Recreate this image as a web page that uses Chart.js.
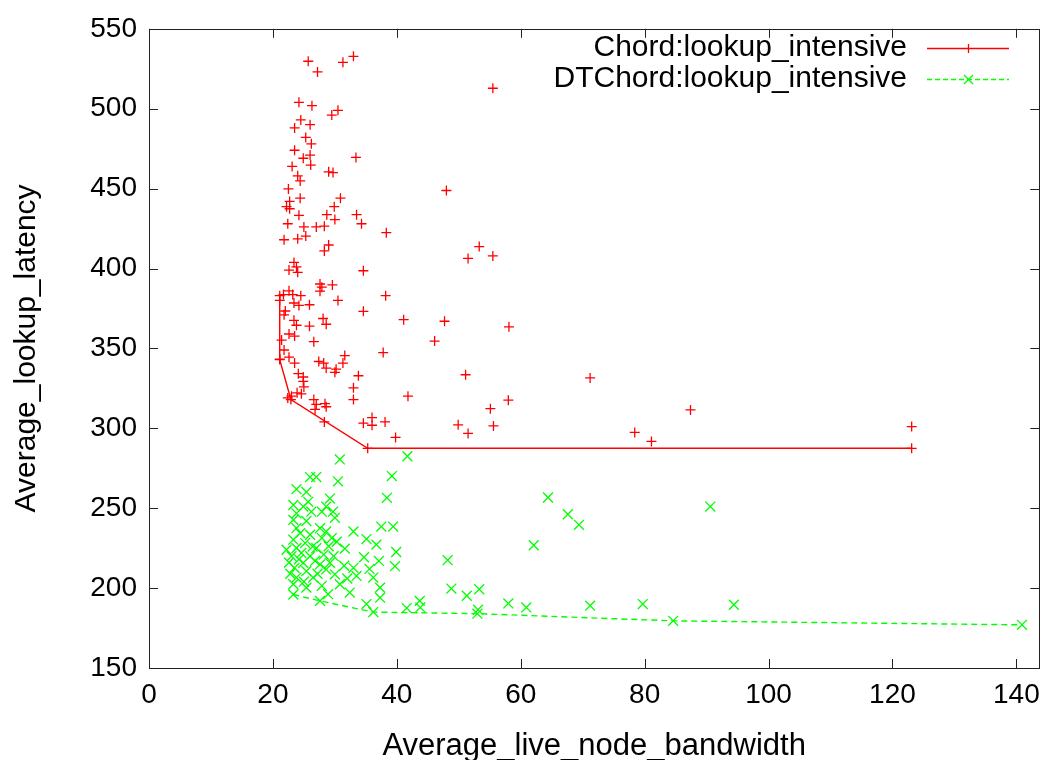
<!DOCTYPE html>
<html>
<head>
<meta charset="utf-8">
<title>lookup latency vs bandwidth</title>
<script src="https://cdn.jsdelivr.net/npm/chart.js@4.4.0/dist/chart.umd.min.js"></script>
<style>
  html, body { margin: 0; padding: 0; background: #fff; }
  canvas { display: block; }
</style>
</head>
<body>
<canvas id="plot" width="1050" height="760"></canvas>
<script>
// Chord runs (all samples)
var chordX = [25.7, 31.3, 33.0, 27.2, 24.2, 26.3, 30.5, 29.5, 24.5, 26.0, 23.5, 25.3, 26.2, 23.5, 26.0, 24.9, 33.4, 26.1, 23.1, 29.0,
  29.7, 24.0, 24.4, 22.5, 24.4, 30.9, 22.7, 22.2, 29.9, 22.7, 24.2, 28.7, 33.5, 30.0, 34.3, 22.4, 25.0, 27.0, 28.3, 38.3,
  21.8, 24.0, 25.3, 29.0, 28.3, 23.4, 23.8, 22.6, 24.0, 34.6, 27.6, 27.9, 27.6, 29.6, 38.2, 22.6, 21.7, 23.2, 24.5, 30.5,
  21.1, 23.4, 25.9, 24.2, 22.0, 34.6, 21.8, 23.4, 28.1, 41.1, 23.8, 25.9, 28.6, 46.1, 22.6, 23.5, 26.6, 21.4, 21.8, 37.8,
  31.6, 21.1, 22.6, 23.5, 27.4, 28.2, 31.3, 28.6, 30.2, 30.0, 24.1, 33.8, 24.9, 24.9, 25.0, 33.0, 41.8, 23.9, 24.6, 33.0,
  23.0, 22.4, 26.6, 27.0, 28.4, 28.6, 26.8, 28.3, 34.6, 36.0, 36.0, 38.1, 39.8, 53.3, 51.5, 55.5, 47.7, 58.1, 51.1, 71.2,
  58.0, 55.1, 49.9, 51.5, 55.6, 78.4, 81.1, 55.5, 48.0, 87.4, 123.1];
var chordY = [529.7, 529, 532.8, 523, 504, 501.9, 499, 496, 493, 490, 488, 482, 478, 474, 471, 469, 469.5, 464.7, 463.9, 460.5,
  460, 458, 454.8, 449.8, 444, 444, 442, 438.7, 438.7, 437.4, 433.3, 433.7, 433.7, 430.6, 428, 428, 426, 426, 426.5, 422.4,
  418, 418.6, 420.3, 414.7, 411, 403.8, 401, 399, 397.6, 398.6, 390.3, 388.3, 385.8, 389.7, 383, 386, 383.7, 383.7, 383, 380,
  380, 378.4, 377.3, 376.9, 373.4, 373.2, 371, 367.6, 368.7, 368, 364.5, 363.9, 365.1, 354.6, 359, 357.7, 354.2, 355.2, 349, 347.4,
  345.5, 343.3, 344.5, 340.8, 341.8, 340.8, 340.8, 337.7, 337, 335, 334.2, 332.9, 332.1, 329.4, 325.9, 325.3, 320.1, 322.2, 321.6, 318,
  320.1, 319, 318, 315, 315.4, 313.5, 311.8, 304, 303.2, 306.7, 301.9, 304, 294.3, 413.7, 406.3, 407.9, 367, 363.5, 333.5, 331.5,
  317.6, 312.3, 302.2, 296.8, 301.5, 297.4, 291.8, 512.8, 448.8, 311.5, 301.1];

// Chord lower envelope
var chordFrontX = [21.1, 21.1, 22.9, 35.3, 123.1];
var chordFrontY = [383, 343, 318, 287.5, 287.5];

// DTChord runs (all samples)
var dtX = [30.8, 41.7, 39.2, 38.4, 26.0, 27.0, 30.5, 23.8, 25.4, 29.2, 25.7, 23.3, 24.9, 26.2, 28.6, 29.7, 23.8, 27.9, 30.0, 23.3,
  25.4, 23.8, 27.6, 28.6, 24.4, 26.0, 29.5, 27.9, 33.0, 35.1, 23.3, 25.2, 37.5, 39.4, 36.7, 31.6, 22.2, 23.8, 27.0, 29.0,
  39.9, 23.0, 26.0, 24.9, 27.6, 29.2, 34.7, 33.0, 37.1, 39.7, 23.5, 25.4, 28.6, 23.8, 26.5, 30.0, 33.5, 36.2, 23.3, 25.4,
  27.9, 30.8, 37.3, 32.4, 28.9, 35.1, 37.3, 64.4, 67.6, 69.4, 62.1, 48.2, 48.8, 53.3, 51.3, 58.0, 60.9, 71.2, 79.7, 41.6,
  43.7, 43.8, 53.1, 90.6, 94.4, 24.6, 26.8, 22.8, 25.0, 27.2, 29.8, 31.5, 32.0, 24.2, 26.4, 28.2, 30.3, 22.6, 35.6];
var dtY = [280.5, 282.5, 270.1, 256.5, 269.5, 269.5, 266.8, 261.9, 260.2, 256, 254, 252, 251, 247.8, 251, 247.8, 246.8, 247.8, 244, 242.7,
  242, 237.5, 237.5, 235.4, 234.4, 233.4, 231.3, 231.3, 235.4, 230.7, 230.3, 228.2, 238.5, 238.5, 227.2, 224.7, 224, 225.1, 225, 226.2,
  222.6, 220, 220, 215.8, 214.8, 215.8, 219.3, 212.7, 217, 213.7, 212.7, 210.6, 211.7, 206.6, 206.6, 208.6, 207.6, 206.6, 202.4, 200.3,
  201.4, 202.4, 200.3, 197.2, 196.2, 190, 194, 256.7, 246.2, 239.6, 226.8, 217.5, 199.7, 199.3, 195.2, 190.4, 187.9, 189, 190, 187.5,
  192, 187.9, 186.5, 251, 189.6, 222, 217, 209, 204, 209, 220, 214, 206, 218, 226, 221, 229, 216, 212];

// DTChord lower envelope
var dtFrontX = [23.3, 27.6, 36.2, 53.0, 84.6, 140.9];
var dtFrontY = [196, 192, 185, 184, 179.5, 177];

var seriesNames = ['Chord:lookup_intensive', 'DTChord:lookup_intensive'];
var xTicks = [0, 20, 40, 60, 80, 100, 120, 140];
var yTicks = [150, 200, 250, 300, 350, 400, 450, 500, 550];

var RED = '#ff0000';
var GREEN = '#00ff00';
var FONT = 'Liberation Sans, Arial, Helvetica, sans-serif';

function pts(xs, ys) {
  return xs.map(function (x, i) { return { x: x, y: ys[i] }; });
}

// gnuplot style frame: box with inward ticks on all sides, plus the key
var frame = {
  id: 'frame',
  afterDraw: function (chart) {
    var ctx = chart.ctx, a = chart.chartArea;
    var sx = chart.scales.x, sy = chart.scales.y;
    ctx.save();
    ctx.strokeStyle = '#222';
    ctx.lineWidth = 1;
    ctx.strokeRect(Math.round(a.left) + 0.5, Math.round(a.top) + 0.5,
      Math.round(a.right - a.left), Math.round(a.bottom - a.top));
    ctx.beginPath();
    xTicks.forEach(function (v) {
      var px = Math.round(sx.getPixelForValue(v)) + 0.5;
      ctx.moveTo(px, a.bottom); ctx.lineTo(px, a.bottom - 9);
      ctx.moveTo(px, a.top); ctx.lineTo(px, a.top + 9);
    });
    yTicks.forEach(function (v) {
      var py = Math.round(sy.getPixelForValue(v)) + 0.5;
      ctx.moveTo(a.left, py); ctx.lineTo(a.left + 9, py);
      ctx.moveTo(a.right, py); ctx.lineTo(a.right - 9, py);
    });
    ctx.stroke();

    // key, top right
    ctx.font = '30px ' + FONT;
    ctx.fillStyle = '#000';
    ctx.textAlign = 'right';
    ctx.textBaseline = 'middle';
    var rows = [48, 79];
    ctx.fillText(seriesNames[0], 907, rows[0]);
    ctx.fillText(seriesNames[1], 907, rows[1]);

    ctx.lineWidth = 1.3;
    ctx.strokeStyle = RED;
    ctx.beginPath();
    ctx.moveTo(927, rows[0] + 0.5); ctx.lineTo(1009, rows[0] + 0.5);
    ctx.moveTo(968.5, rows[0] - 4); ctx.lineTo(968.5, rows[0] + 5);
    ctx.moveTo(964, rows[0] + 0.5); ctx.lineTo(973, rows[0] + 0.5);
    ctx.stroke();

    ctx.strokeStyle = GREEN;
    ctx.setLineDash([5, 3]);
    ctx.beginPath();
    ctx.moveTo(927, rows[1] + 0.5); ctx.lineTo(1009, rows[1] + 0.5);
    ctx.stroke();
    ctx.setLineDash([]);
    ctx.beginPath();
    ctx.moveTo(964, rows[1] - 4); ctx.lineTo(973, rows[1] + 5);
    ctx.moveTo(973, rows[1] - 4); ctx.lineTo(964, rows[1] + 5);
    ctx.stroke();
    ctx.restore();
  }
};

var ctx = document.getElementById('plot').getContext('2d');

var chart = new Chart(ctx, {
  type: 'scatter',
  data: {
    datasets: [
      {
        label: seriesNames[0],
        data: pts(chordX, chordY),
        showLine: false,
        pointStyle: 'cross',
        pointRadius: 5,
        pointBorderWidth: 1.3,
        borderColor: RED,
        backgroundColor: RED,
        order: 4
      },
      {
        label: seriesNames[0] + ' front',
        data: pts(chordFrontX, chordFrontY),
        showLine: true,
        borderWidth: 1.4,
        pointStyle: 'cross',
        pointRadius: 5,
        pointBorderWidth: 1.3,
        borderColor: RED,
        backgroundColor: RED,
        order: 3
      },
      {
        label: seriesNames[1],
        data: pts(dtX, dtY),
        showLine: false,
        pointStyle: 'crossRot',
        pointRadius: 7,
        pointBorderWidth: 1.3,
        borderColor: GREEN,
        backgroundColor: GREEN,
        order: 2
      },
      {
        label: seriesNames[1] + ' front',
        data: pts(dtFrontX, dtFrontY),
        showLine: true,
        borderWidth: 1.4,
        borderDash: [6, 4],
        pointStyle: 'crossRot',
        pointRadius: 7,
        pointBorderWidth: 1.3,
        borderColor: GREEN,
        backgroundColor: GREEN,
        order: 1
      }
    ]
  },
  options: {
    responsive: false,
    animation: false,
    layout: { padding: { top: 22, right: 10, left: 0, bottom: 0 } },
    plugins: {
      legend: { display: false },
      tooltip: { enabled: false }
    },
    scales: {
      x: {
        type: 'linear',
        min: 0,
        max: 143.7,
        afterBuildTicks: function (s) { s.ticks = xTicks.map(function (v) { return { value: v }; }); },
        afterFit: function (s) { s.height = 92; },
        grid: { display: false, drawTicks: false },
        border: { display: false },
        ticks: { color: '#000', font: { family: FONT, size: 28 }, padding: 10, maxRotation: 0 },
        title: {
          display: true,
          text: 'Average_live_node_bandwidth',
          color: '#000',
          font: { family: FONT, size: 31, lineHeight: 0.88 },
          padding: 0
        }
      },
      y: {
        type: 'linear',
        min: 150,
        max: 550,
        afterBuildTicks: function (s) { s.ticks = yTicks.map(function (v) { return { value: v }; }); },
        afterFit: function (s) { s.width = 149; },
        grid: { display: false, drawTicks: false },
        border: { display: false },
        ticks: { color: '#000', font: { family: FONT, size: 28 }, padding: 12 },
        title: {
          display: true,
          text: 'Average_lookup_latency',
          color: '#000',
          font: { family: FONT, size: 30, lineHeight: 1.2 },
          padding: 9
        }
      }
    }
  },
  plugins: [frame]
});
</script>
</body>
</html>
